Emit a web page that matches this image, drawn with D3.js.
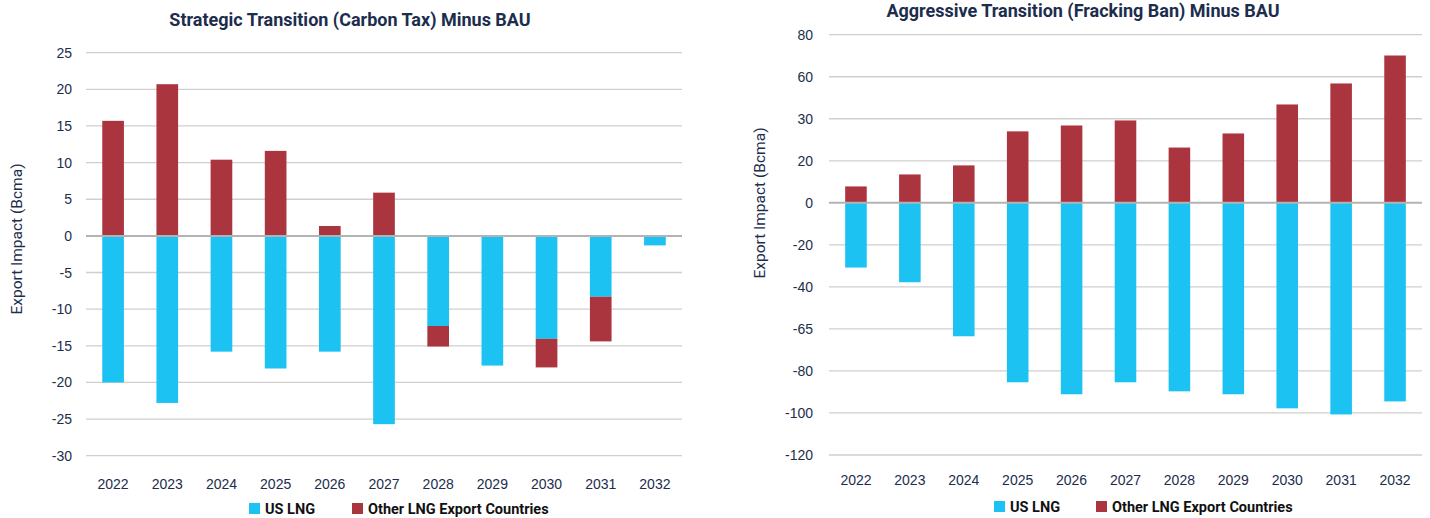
<!DOCTYPE html>
<html>
<head>
<meta charset="utf-8">
<script src="https://cdn.jsdelivr.net/npm/d3@7"></script>
<style>
  body { margin: 0; background: #fff; }
  svg { display: block; font-family: Roboto, "DejaVu Sans", sans-serif; }
</style>
</head>
<body>
<div id="chart"></div>
<script>
// categories
const years = ["2022", "2023", "2024", "2025", "2026", "2027", "2028", "2029", "2030", "2031", "2032"];

// Strategic Transition (Carbon Tax) minus BAU, Bcma
const carbonUS = [-20.0, -22.8, -15.8, -18.1, -15.8, -25.7, -12.3, -17.7, -14.05, -8.3, -1.3];
const carbonOther = [15.7, 20.7, 10.4, 11.6, 1.35, 5.9, -2.8, 0, -3.9, -6.1, 0];
const carbonTicks = [25, 20, 15, 10, 5, 0, -5, -10, -15, -20, -25, -30];

// Aggressive Transition (Fracking Ban) minus BAU, Bcma
const frackUS = [-30.8, -37.8, -63.5, -85.4, -91.1, -85.4, -89.7, -91.1, -97.8, -100.7, -94.5];
const frackOther = [7.8, 13.5, 17.8, 34, 36.8, 39.2, 26.3, 33, 46.8, 56.8, 70.1];
const frackTicks = [80, 60, 40, 20, 0, -20, -40, -60, -80, -100, -120];
const frackTickLabels = ["80", "60", "30", "20", "0", "-20", "-40", "-65", "-80", "-100", "-120"];

const seriesNames = ["US LNG", "Other LNG Export Countries"];
const colors = { "US LNG": "#1bc2f2", "Other LNG Export Countries": "#ab353f" };
const navy = "#1c2d4d";

const W = 1430, H = 518;
const svg = d3.select("#chart").append("svg")
    .attr("width", W)
    .attr("height", H);

function drawChart(opt) {
    const g = svg.append("g");

    const x = d3.scaleBand()
        .domain(years)
        .range([opt.left, opt.right])
        .paddingInner(0.6)
        .paddingOuter(0.3);

    const y = d3.scaleLinear()
        .domain([opt.min, opt.max])
        .range([opt.bottom, opt.top]);

    // gridlines
    g.selectAll(".grid")
        .data(opt.ticks.filter(t => t !== 0))
        .enter().append("line")
        .attr("x1", opt.left)
        .attr("x2", opt.right)
        .attr("y1", d => y(d))
        .attr("y2", d => y(d))
        .attr("stroke", "#cfcfcf")
        .attr("stroke-width", 1.3);

    // stacked bars (negatives stack downwards)
    const rows = years.map((yr, i) => ({
        year: yr,
        "US LNG": opt.us[i],
        "Other LNG Export Countries": opt.other[i]
    }));
    const stack = d3.stack()
        .keys(seriesNames)
        .offset(d3.stackOffsetDiverging);
    const layers = stack(rows);

    g.selectAll(".layer")
        .data(layers)
        .enter().append("g")
        .attr("fill", d => colors[d.key])
        .selectAll("rect")
        .data(d => d)
        .enter().append("rect")
        .attr("x", d => x(d.data.year))
        .attr("width", x.bandwidth())
        .attr("y", d => y(Math.max(d[0], d[1])))
        .attr("height", d => Math.abs(y(d[0]) - y(d[1])));

    // zero line on top
    g.append("line")
        .attr("x1", opt.left)
        .attr("x2", opt.right)
        .attr("y1", y(0))
        .attr("y2", y(0))
        .attr("stroke", "#b3b3b3")
        .attr("stroke-width", 2);

    // y axis labels
    const yAxis = d3.axisLeft(y)
        .tickValues(opt.ticks)
        .tickSize(0)
        .tickPadding(0)
        .tickFormat((d, i) => opt.tickLabels ? opt.tickLabels[i] : d);
    g.append("g")
        .attr("transform", `translate(${opt.labelX},0)`)
        .call(yAxis)
        .call(a => a.select(".domain").remove())
        .selectAll("text")
        .attr("fill", navy)
        .style("font-size", "14px")
        .style("font-weight", 500);

    // x axis labels
    const xAxis = d3.axisBottom(x).tickSize(0).tickPadding(0);
    g.append("g")
        .attr("transform", `translate(0,${opt.xLabelY})`)
        .call(xAxis)
        .call(a => a.select(".domain").remove())
        .selectAll("text")
        .attr("fill", navy)
        .attr("dy", 0)
        .style("font-size", "14px")
        .style("font-weight", 500);

    // title
    g.append("text")
        .attr("x", opt.titleX)
        .attr("y", opt.titleY)
        .attr("text-anchor", "middle")
        .attr("fill", navy)
        .style("font-size", "18px")
        .style("font-weight", "bold")
        .text(opt.title);

    // y axis title
    g.append("text")
        .attr("transform", `translate(${opt.yTitleX},${opt.yTitleY}) rotate(-90)`)
        .attr("text-anchor", "middle")
        .attr("fill", navy)
        .style("font-size", "15.5px")
        .text("Export Impact (Bcma)");

    // legend
    const leg = g.append("g")
        .attr("transform", `translate(${opt.legendX},${opt.legendY})`);
    const items = leg.selectAll("g")
        .data(seriesNames)
        .enter().append("g")
        .attr("transform", (d, i) => `translate(${i * opt.legendGap},0)`);
    items.append("rect")
        .attr("x", 0)
        .attr("y", -11)
        .attr("width", 11)
        .attr("height", 11)
        .attr("fill", d => colors[d]);
    items.append("text")
        .attr("x", 16)
        .attr("y", 0)
        .attr("fill", "#111")
        .style("font-size", "14.5px")
        .style("font-weight", "bold")
        .text(d => d);
}

drawChart({
    title: "Strategic Transition (Carbon Tax) Minus BAU",
    us: carbonUS, other: carbonOther,
    ticks: carbonTicks,
    min: -30, max: 25,
    left: 86, right: 682, top: 52.7, bottom: 455.7,
    labelX: 72, xLabelY: 489,
    titleX: 350, titleY: 26,
    yTitleX: 22, yTitleY: 239,
    legendX: 249, legendY: 514, legendGap: 103
});

drawChart({
    title: "Aggressive Transition (Fracking Ban) Minus BAU",
    us: frackUS, other: frackOther,
    ticks: frackTicks, tickLabels: frackTickLabels,
    min: -120, max: 80,
    left: 829, right: 1422, top: 34.7, bottom: 455,
    labelX: 813, xLabelY: 485,
    titleX: 1083, titleY: 17,
    yTitleX: 765, yTitleY: 203,
    legendX: 994, legendY: 512, legendGap: 102
});
</script>
</body>
</html>
